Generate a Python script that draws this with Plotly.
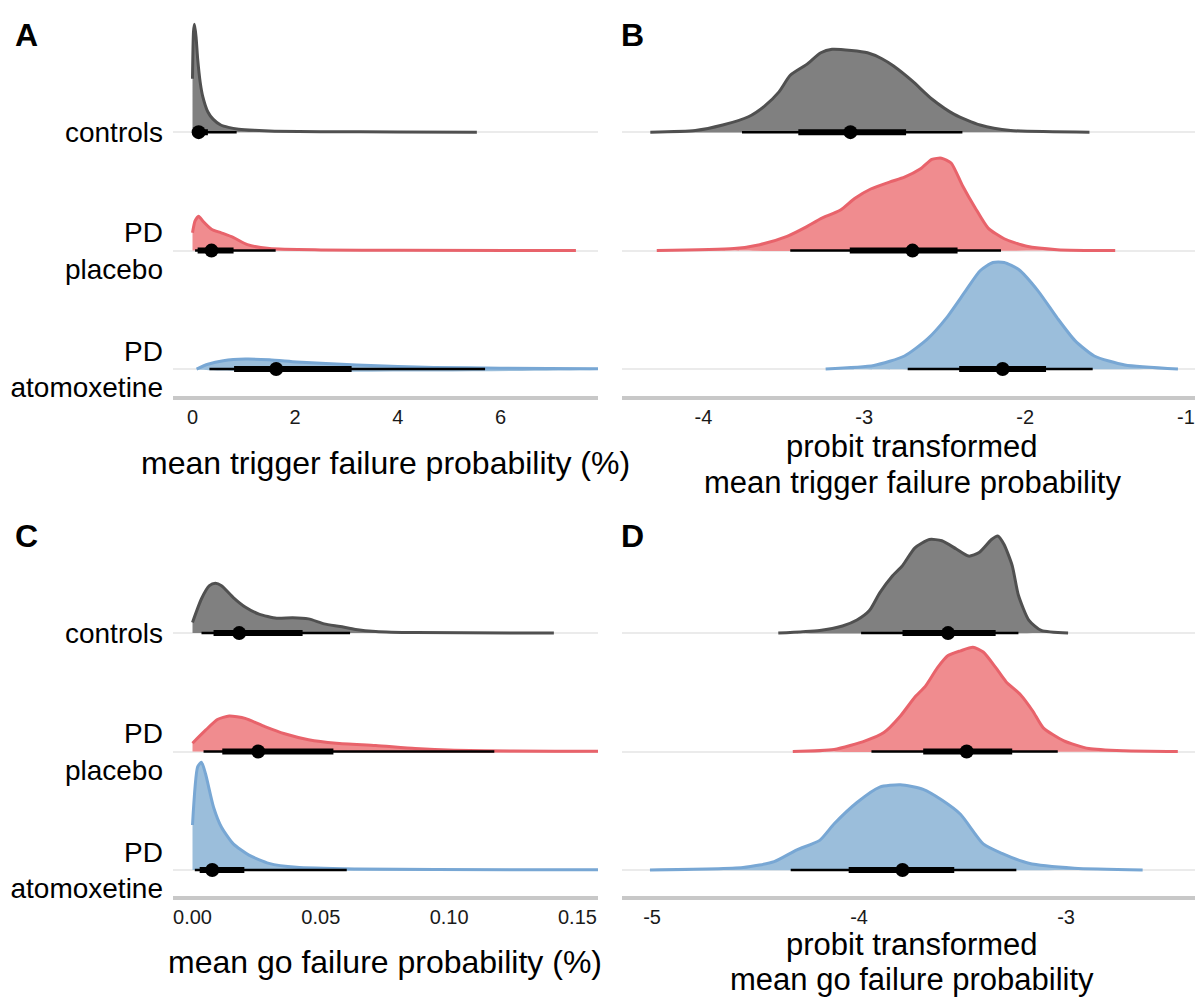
import plotly.graph_objects as go

W, H = 1195, 1001
FONT = "Liberation Sans, Arial, Helvetica, sans-serif"

# rows: 0 = PD atomoxetine, 1 = PD placebo, 2 = controls
row_labels = ["PD<br>atomoxetine", "PD<br>placebo", "controls"]

fill_cols = ["#9bbedb", "#f08c8f", "#808080"]
line_cols = ["#78a7d4", "#e8636b", "#505050"]

# ---------------- Panel A: mean trigger failure probability (%) ----------------
a_ctrl_x = [0, 0.02, 0.04, 0.07, 0.1, 0.15, 0.2, 0.3, 0.4, 0.55, 0.7, 0.9, 1.2, 1.6, 2.5, 4.0, 5.54]
a_ctrl_h = [0.45, 0.85, 0.91, 0.8, 0.62, 0.42, 0.3, 0.17, 0.11, 0.06, 0.04, 0.025, 0.015, 0.008, 0.004, 0.002, 0.0]
a_plac_x = [0, 0.05, 0.12, 0.2, 0.37, 0.56, 0.8, 1.07, 1.5, 2.5, 4.0, 7.47]
a_plac_h = [0.15, 0.25, 0.29, 0.25, 0.18, 0.15, 0.11, 0.05, 0.017, 0.006, 0.003, 0.0]
a_atom_x = [0.08, 0.3, 0.6, 1.03, 1.5, 2.03, 2.6, 3.2, 4.0, 4.7, 6.0, 7.9, 8.5]
a_atom_h = [0.0, 0.04, 0.07, 0.084, 0.078, 0.06, 0.047, 0.034, 0.022, 0.014, 0.007, 0.003, 0.002]
a_median = [1.63, 0.37, 0.12]
a_q66 = [(0.81, 3.1), (0.1, 0.8), (0.03, 0.3)]
a_q95 = [(0.33, 5.7), (0.05, 1.62), (0.01, 0.86)]

# ---------------- Panel B: probit transformed trigger failure ----------------
b_ctrl_x = [-4.33, -4.05, -3.88, -3.72, -3.62, -3.53, -3.46, -3.36, -3.27, -3.2, -3.08, -2.98, -2.89,
            -2.82, -2.7, -2.58, -2.44, -2.28, -2.09, -1.6]
b_ctrl_h = [0.0, 0.014, 0.06, 0.13, 0.22, 0.34, 0.48, 0.57, 0.67, 0.70, 0.69, 0.67, 0.62,
            0.56, 0.43, 0.28, 0.15, 0.06, 0.014, 0.0]
b_plac_x = [-4.29, -3.81, -3.65, -3.48, -3.36, -3.27, -3.15, -3.06, -2.96, -2.84, -2.75, -2.65, -2.58,
            -2.52, -2.46, -2.39, -2.31, -2.23, -2.13, -1.99, -1.8, -1.44]
b_plac_h = [0.0, 0.017, 0.05, 0.12, 0.2, 0.27, 0.34, 0.44, 0.52, 0.58, 0.62, 0.69, 0.77,
            0.78, 0.74, 0.55, 0.36, 0.19, 0.1, 0.036, 0.008, 0.0]
b_atom_x = [-3.24, -2.94, -2.75, -2.61, -2.49, -2.37, -2.28, -2.2, -2.13, -2.04, -1.92, -1.8, -1.69,
            -1.57, -1.38, -1.05]
b_atom_h = [0.0, 0.03, 0.11, 0.25, 0.43, 0.66, 0.83, 0.9, 0.9, 0.84, 0.66, 0.43, 0.24,
            0.11, 0.034, 0.0]
b_median = [-2.14, -2.70, -3.086]
b_q66 = [(-2.41, -1.87), (-3.09, -2.42), (-3.41, -2.74)]
b_q95 = [(-2.73, -1.58), (-3.46, -2.15), (-3.76, -2.39)]

# ---------------- Panel C: mean go failure probability (%) ----------------
c_ctrl_x = [0, 0.0035, 0.0066, 0.0089, 0.0113, 0.0159, 0.0205, 0.0259, 0.0328, 0.039, 0.0452, 0.0513,
            0.0575, 0.0636, 0.0714, 0.0868, 0.1408]
c_ctrl_h = [0.09, 0.29, 0.40, 0.42, 0.40, 0.30, 0.22, 0.16, 0.125, 0.13, 0.12, 0.078,
            0.056, 0.031, 0.014, 0.004, 0.0]
c_plac_x = [0, 0.0051, 0.0097, 0.0143, 0.0205, 0.0282, 0.0359, 0.0452, 0.056, 0.0714, 0.0868, 0.102,
            0.125, 0.158, 0.17]
c_plac_h = [0.07, 0.18, 0.27, 0.30, 0.28, 0.21, 0.15, 0.10, 0.07, 0.05, 0.025, 0.011,
            0.005, 0.002, 0.002]
c_atom_x = [0, 0.002, 0.0035, 0.0051, 0.0082, 0.0113, 0.0159, 0.022, 0.0298, 0.0405, 0.0637, 0.0945,
            0.158, 0.17]
c_atom_h = [0.38, 0.87, 0.91, 0.81, 0.53, 0.36, 0.22, 0.125, 0.056, 0.022, 0.008, 0.004,
            0.002, 0.002]
c_median = [0.0077, 0.0256, 0.0182]
c_q66 = [(0.0028, 0.0202), (0.0116, 0.0549), (0.0082, 0.0429)]
c_q95 = [(0.0009, 0.0601), (0.0043, 0.1176), (0.0035, 0.0614)]

# ---------------- Panel D: probit transformed go failure ----------------
d_ctrl_x = [-4.39, -4.19, -4.08, -4.01, -3.95, -3.9, -3.84, -3.79, -3.73, -3.66, -3.6, -3.53, -3.47,
            -3.42, -3.36, -3.33, -3.3, -3.26, -3.23, -3.18, -3.12, -2.99]
d_ctrl_h = [0.0, 0.022, 0.06, 0.11, 0.19, 0.34, 0.48, 0.57, 0.72, 0.79, 0.78, 0.71, 0.65,
            0.68, 0.79, 0.82, 0.75, 0.57, 0.32, 0.11, 0.022, 0.0]
d_plac_x = [-4.32, -4.12, -3.97, -3.88, -3.8, -3.73, -3.68, -3.62, -3.57, -3.51, -3.45, -3.4, -3.34,
            -3.29, -3.22, -3.16, -3.11, -3.01, -2.89, -2.72, -2.46]
d_plac_h = [0.0, 0.017, 0.09, 0.16, 0.30, 0.46, 0.55, 0.71, 0.81, 0.85, 0.88, 0.84, 0.71,
            0.59, 0.48, 0.34, 0.2, 0.09, 0.025, 0.006, 0.0]
d_atom_x = [-5.01, -4.56, -4.41, -4.3, -4.19, -4.12, -4.01, -3.9, -3.8, -3.69, -3.6, -3.51, -3.4,
            -3.31, -3.18, -2.96, -2.63]
d_atom_h = [0.0, 0.02, 0.07, 0.17, 0.25, 0.39, 0.57, 0.70, 0.72, 0.68, 0.59, 0.47, 0.22,
            0.14, 0.056, 0.014, 0.0]
d_median = [-3.79, -3.48, -3.57]
d_q66 = [(-4.05, -3.54), (-3.69, -3.26), (-3.79, -3.34)]
d_q95 = [(-4.33, -3.24), (-3.94, -3.04), (-3.99, -3.23)]

panels = [
    dict(ax="x", ay="y", dens=[(a_atom_x, a_atom_h), (a_plac_x, a_plac_h), (a_ctrl_x, a_ctrl_h)],
         med=a_median, q66=a_q66, q95=a_q95),
    dict(ax="x2", ay="y2", dens=[(b_atom_x, b_atom_h), (b_plac_x, b_plac_h), (b_ctrl_x, b_ctrl_h)],
         med=b_median, q66=b_q66, q95=b_q95),
    dict(ax="x3", ay="y3", dens=[(c_atom_x, c_atom_h), (c_plac_x, c_plac_h), (c_ctrl_x, c_ctrl_h)],
         med=c_median, q66=c_q66, q95=c_q95),
    dict(ax="x4", ay="y4", dens=[(d_atom_x, d_atom_h), (d_plac_x, d_plac_h), (d_ctrl_x, d_ctrl_h)],
         med=d_median, q66=d_q66, q95=d_q95),
]

fig = go.Figure()
for p in panels:
    for r, (xs, hs) in enumerate(p["dens"]):
        top = [r + h for h in hs]
        # fill polygon
        fig.add_trace(go.Scatter(
            x=list(xs) + [xs[-1], xs[0]], y=top + [r, r],
            mode="lines", line=dict(width=0, shape="spline", smoothing=0.6),
            fill="toself", fillcolor=fill_cols[r], hoverinfo="skip",
            xaxis=p["ax"], yaxis=p["ay"], showlegend=False))
        # outline
        fig.add_trace(go.Scatter(
            x=xs, y=top, mode="lines",
            line=dict(color=line_cols[r], width=3, shape="spline", smoothing=0.6),
            xaxis=p["ax"], yaxis=p["ay"], showlegend=False, hoverinfo="skip"))
        # 95% interval
        lo, hi = p["q95"][r]
        fig.add_trace(go.Scatter(x=[lo, hi], y=[r, r], mode="lines",
                                 line=dict(color="black", width=2.5),
                                 xaxis=p["ax"], yaxis=p["ay"], showlegend=False))
        # 66% interval
        lo, hi = p["q66"][r]
        fig.add_trace(go.Scatter(x=[lo, hi], y=[r, r], mode="lines",
                                 line=dict(color="black", width=6),
                                 xaxis=p["ax"], yaxis=p["ay"], showlegend=False))
        # median
        fig.add_trace(go.Scatter(x=[p["med"][r]], y=[r], mode="markers",
                                 marker=dict(color="black", size=14),
                                 xaxis=p["ax"], yaxis=p["ay"], showlegend=False))

left_dom = [173 / W, 598 / W]
right_dom = [622 / W, 1.0]
top_dom = [(H - 399) / H, (H - 15) / H]
bot_dom = [(H - 903) / H, (H - 520) / H]
yr_top = [-0.226, 2.99]
yr_bot = [-0.218, 2.99]

def xax(dom, anchor, rng, vals, texts):
    return dict(domain=dom, anchor=anchor, range=rng, tickvals=vals, ticktext=texts,
                showline=True, linecolor="#c8c8c8", linewidth=4, ticks="",
                showgrid=False, zeroline=False, ticklabelstandoff=0,
                ticklabeloverflow="allow",
                tickfont=dict(family=FONT, size=20, color="#1a1a1a"))

def yax(dom, anchor, rng, labels):
    return dict(domain=dom, anchor=anchor, range=rng, tickvals=[0, 1, 2],
                ticktext=row_labels, showticklabels=labels, showgrid=True,
                gridcolor="#ebebeb", gridwidth=1.5, zeroline=False, showline=False,
                ticks="", ticklabelstandoff=9,
                tickfont=dict(family=FONT, size=28, color="black"))

fig.update_layout(
    width=W, height=H, margin=dict(l=0, r=0, t=0, b=0),
    plot_bgcolor="white", paper_bgcolor="white", showlegend=False,
    font=dict(family=FONT, color="black"),
    xaxis=xax(left_dom, "y", [-0.38, 7.9], [0, 2, 4, 6], ["0", "2", "4", "6"]),
    xaxis2=xax(right_dom, "y2", [-4.506, -0.944], [-4, -3, -2, -1], ["-4", "-3", "-2", "-1"]),
    xaxis3=xax(left_dom, "y3", [-0.0076, 0.158], [0, 0.05, 0.1, 0.15], ["0.00", "0.05", "0.10", "0.15"]),
    xaxis4=xax(right_dom, "y4", [-5.145, -2.377], [-5, -4, -3], ["-5", "-4", "-3"]),
    yaxis=yax(top_dom, "x", yr_top, True),
    yaxis2=yax(top_dom, "x2", yr_top, False),
    yaxis3=yax(bot_dom, "x3", yr_bot, True),
    yaxis4=yax(bot_dom, "x4", yr_bot, False),
)

def ann(text, xpx, ypx, size, bold=False, xanchor="center"):
    fig.add_annotation(text=f"<b>{text}</b>" if bold else text,
                       x=xpx / W, y=(H - ypx) / H, xref="paper", yref="paper",
                       xanchor=xanchor, yanchor="middle", showarrow=False,
                       font=dict(family=FONT, size=size, color="black"))

TS = 31
ann("mean trigger failure probability (%)", 385, 467, 32)
ann("probit transformed", 912, 450, TS)
ann("mean trigger failure probability", 912, 486, TS)
ann("mean go failure probability (%)", 385, 970, 32)
ann("probit transformed", 912, 952, TS)
ann("mean go failure probability", 912, 987, TS)

for letter, xp, yp in [("A", 13, 35), ("B", 619, 35), ("C", 13, 540), ("D", 619, 540)]:
    ann(letter, xp, yp, 32, bold=True, xanchor="left")

fig.write_html("out.html")
